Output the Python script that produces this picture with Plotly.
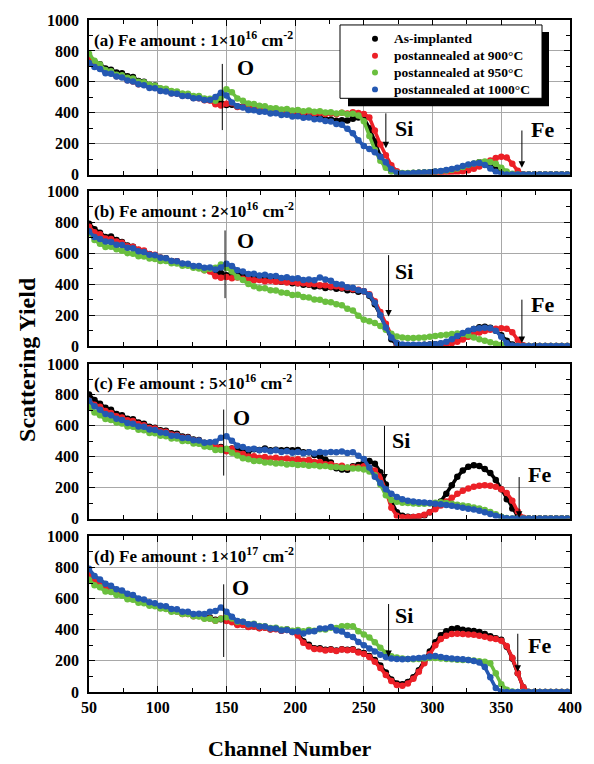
import plotly.graph_objects as go

# ---------------- data (channel axis sampled every 4 channels) ----------------
channels = list(range(50, 400, 4))  # 50 ... 398

series_names = ["As-implanted", "postannealed at 900°C",
                "postannealed at 950°C", "postannealed at 1000°C"]
series_colors = ["#000000", "#ec2027", "#6abf3e", "#2458b2"]

Z8 = [0, 0, 0, 0, 0, 0, 0, 0]

# (a) 1e16
a_black = [770, 728, 714, 686, 679, 660, 655, 636, 631, 606,
           601, 580, 576, 556, 551, 534, 533, 515, 513, 498,
           497, 484, 482, 466, 464, 450, 452, 441, 440, 426,
           428, 414, 415, 404, 406, 396, 398, 388, 390, 380,
           382, 369, 368, 356, 357, 349, 352, 350, 362, 370,
           365, 300, 215, 115, 55, 22, 10, 8, 8, 10,
           12, 14, 15, 18, 20, 24, 28, 35, 45, 55,
           68, 80, 75, 58, 38, 18, 6, 2, 0, 0] + Z8
a_red = [742, 716, 698, 666, 658, 636, 633, 611, 603, 584,
         581, 566, 562, 544, 542, 526, 524, 511, 510, 496,
         494, 481, 480, 455, 447, 458, 462, 438, 437, 427,
         430, 421, 424, 416, 420, 411, 414, 406, 410, 401,
         405, 396, 400, 392, 397, 390, 400, 396, 404, 398,
         392, 370, 285, 195, 125, 60, 22, 8, 6, 6,
         6, 6, 7, 8, 9, 10, 12, 15, 20, 28,
         38, 52, 72, 92, 108, 115, 110, 70, 25, 2] + Z8
a_green = [782, 736, 713, 676, 668, 646, 643, 626, 621, 601,
           598, 581, 575, 558, 555, 541, 538, 524, 523, 508,
           508, 493, 491, 478, 497, 552, 532, 493, 477, 460,
           457, 445, 442, 429, 430, 421, 424, 414, 418, 410,
           414, 406, 410, 401, 404, 396, 400, 390, 394, 383,
           345, 250, 160, 90, 45, 20, 12, 10, 10, 12,
           12, 14, 16, 18, 22, 26, 32, 40, 50, 62,
           72, 80, 85, 82, 70, 45, 20, 5, 0, 0] + Z8
a_blue = [722, 696, 683, 656, 652, 634, 628, 608, 603, 584,
          578, 561, 558, 541, 538, 524, 523, 508, 508, 494,
          494, 482, 482, 502, 530, 512, 467, 442, 434, 418,
          417, 406, 407, 396, 397, 386, 387, 376, 378, 368,
          370, 358, 358, 346, 344, 328, 322, 296, 267, 222,
          185, 165, 145, 115, 80, 35, 12, 8, 8, 10,
          12, 14, 16, 20, 24, 30, 36, 45, 55, 65,
          72, 75, 62, 40, 18, 5, 0, 0, 0, 0] + Z8

# (b) 2e16
b_black = [792, 756, 733, 706, 708, 686, 673, 651, 643, 621,
           613, 594, 588, 571, 568, 551, 548, 531, 528, 511,
           508, 494, 492, 478, 472, 458, 467, 466, 464, 451,
           452, 441, 442, 428, 427, 416, 417, 406, 407, 396,
           397, 386, 387, 376, 380, 371, 372, 361, 362, 352,
           355, 325, 270, 200, 120, 45, 8, 5, 5, 6,
           6, 8, 10, 12, 15, 22, 35, 55, 75, 95,
           110, 122, 125, 118, 100, 70, 35, 10, 2, 0] + Z8
b_red = [772, 736, 723, 696, 693, 676, 668, 646, 643, 624,
         618, 596, 591, 571, 565, 548, 548, 531, 528, 511,
         508, 491, 482, 452, 442, 447, 438, 444, 436, 434,
         426, 427, 420, 422, 416, 418, 412, 414, 406, 407,
         400, 402, 394, 394, 386, 387, 378, 378, 368, 364,
         355, 335, 290, 220, 145, 70, 15, 5, 4, 4,
         4, 5, 5, 6, 8, 12, 18, 28, 42, 60,
         75, 88, 98, 105, 112, 115, 112, 90, 40, 5] + Z8
b_green = [732, 686, 662, 641, 642, 626, 617, 601, 597, 581,
           580, 566, 564, 551, 550, 536, 534, 520, 520, 506,
           502, 491, 500, 506, 527, 506, 482, 446, 427, 401,
           387, 374, 374, 361, 360, 346, 344, 331, 332, 318,
           314, 301, 300, 286, 284, 271, 264, 241, 230, 196,
           170, 160, 150, 130, 105, 80, 62, 55, 52, 52,
           54, 56, 60, 65, 70, 74, 78, 82, 78, 70,
           55, 45, 35, 25, 15, 8, 3, 0, 0, 0] + Z8
b_blue = [742, 706, 693, 676, 673, 656, 653, 636, 633, 614,
          608, 591, 588, 571, 568, 551, 548, 534, 533, 518,
          518, 506, 508, 496, 508, 532, 518, 491, 483, 466,
          468, 456, 461, 451, 453, 441, 445, 436, 439, 428,
          431, 426, 443, 431, 423, 401, 398, 381, 378, 361,
          355, 330, 280, 200, 120, 55, 20, 10, 8, 8,
          8, 9, 10, 12, 18, 28, 45, 65, 85, 100,
          110, 115, 118, 115, 100, 60, 20, 4, 0, 0] + Z8

# (c) 5e16
c_black = [802, 766, 743, 716, 703, 676, 668, 646, 643, 621,
           613, 594, 588, 571, 568, 551, 548, 531, 528, 511,
           508, 491, 488, 466, 463, 441, 453, 451, 448, 436,
           448, 444, 453, 441, 445, 441, 443, 441, 443, 428,
           428, 411, 403, 381, 363, 326, 318, 316, 338, 346,
           365, 372, 355, 300, 220, 110, 40, 18, 12, 10,
           12, 20, 40, 70, 110, 160, 215, 270, 310, 335,
           345, 340, 320, 295, 250, 190, 125, 65, 15, 2] + Z8
c_red = [762, 736, 723, 696, 683, 661, 653, 636, 631, 611,
         603, 586, 583, 564, 561, 544, 541, 524, 523, 506,
         503, 486, 483, 464, 458, 436, 451, 421, 418, 401,
         403, 394, 398, 388, 393, 384, 388, 378, 383, 374,
         378, 366, 365, 351, 351, 338, 341, 328, 333, 331,
         338, 330, 310, 270, 180, 70, 18, 8, 8, 10,
         15, 25, 40, 60, 85, 110, 135, 160, 180, 195,
         205, 212, 215, 212, 205, 190, 165, 115, 45, 5] + Z8
c_green = [722, 686, 668, 644, 638, 621, 615, 596, 593, 574,
           571, 554, 551, 536, 533, 518, 518, 501, 501, 486,
           483, 466, 463, 444, 443, 452, 426, 407, 390, 384,
           373, 372, 363, 362, 356, 357, 350, 352, 346, 348,
           342, 344, 338, 340, 333, 334, 328, 330, 323, 324,
           318, 305, 280, 220, 150, 120, 108, 102, 100, 98,
           96, 95, 98, 102, 105, 100, 95, 90, 85, 80,
           72, 65, 55, 42, 28, 12, 3, 0, 0, 0] + Z8
c_blue = [762, 726, 703, 676, 668, 646, 638, 618, 613, 596,
          593, 576, 573, 556, 553, 536, 535, 521, 521, 506,
          505, 491, 493, 496, 523, 532, 503, 471, 463, 448,
          451, 441, 445, 436, 441, 431, 435, 426, 431, 422,
          428, 420, 431, 426, 431, 428, 433, 424, 428, 406,
          385, 330, 270, 230, 190, 160, 140, 125, 115, 110,
          106, 103, 100, 96, 92, 88, 82, 76, 70, 64,
          58, 50, 40, 30, 18, 8, 2, 0, 0, 0] + Z8

# (d) 1e17
d_black = [762, 716, 703, 676, 668, 646, 638, 616, 608, 588,
           583, 566, 563, 546, 543, 526, 523, 508, 508, 494,
           493, 478, 478, 464, 468, 466, 458, 436, 433, 421,
           423, 412, 415, 404, 407, 396, 401, 391, 373, 326,
           303, 281, 281, 271, 275, 266, 275, 271, 275, 258,
           250, 232, 205, 170, 125, 80, 55, 50, 65, 95,
           140, 200, 260, 320, 365, 390, 405, 410, 400, 395,
           392, 385, 372, 358, 345, 335, 290, 215, 120, 30] + Z8
d_red = [752, 711, 693, 666, 658, 636, 628, 608, 603, 584,
         581, 561, 558, 541, 538, 521, 518, 501, 501, 486,
         488, 474, 473, 458, 473, 456, 448, 431, 431, 418,
         421, 410, 413, 401, 403, 394, 398, 386, 363, 316,
         293, 276, 275, 266, 271, 264, 273, 268, 271, 254,
         245, 225, 195, 155, 110, 70, 45, 40, 55, 85,
         130, 185, 245, 300, 340, 362, 372, 375, 372, 370,
         368, 362, 355, 345, 340, 330, 295, 220, 120, 30] + Z8
d_green = [722, 686, 673, 646, 643, 624, 618, 596, 593, 574,
           571, 554, 551, 536, 533, 516, 515, 501, 501, 486,
           485, 471, 471, 458, 471, 481, 473, 451, 451, 436,
           438, 424, 423, 411, 413, 401, 403, 394, 399, 391,
           398, 394, 403, 401, 413, 411, 423, 424, 423, 391,
           370, 350, 320, 285, 250, 230, 222, 215, 212, 210,
           212, 215, 218, 218, 215, 212, 210, 208, 205, 205,
           202, 198, 195, 185, 120, 50, 15, 3, 0, 0] + Z8
d_blue = [792, 746, 723, 696, 683, 661, 653, 631, 623, 601,
          595, 576, 571, 554, 551, 534, 531, 516, 515, 501,
          503, 501, 515, 521, 543, 516, 483, 456, 451, 436,
          435, 421, 421, 408, 408, 396, 398, 386, 388, 376,
          388, 391, 408, 408, 418, 396, 388, 366, 353, 321,
          300, 280, 260, 240, 225, 215, 212, 210, 212, 215,
          218, 222, 228, 232, 225, 218, 215, 212, 210, 205,
          200, 190, 160, 95, 25, 3, 0, 0, 0, 0] + Z8

panel_labels = ["(a) Fe amount : 1×10<sup>16</sup> cm<sup>-2</sup>",
                "(b) Fe amount : 2×10<sup>16</sup> cm<sup>-2</sup>",
                "(c) Fe amount : 5×10<sup>16</sup> cm<sup>-2</sup>",
                "(d) Fe amount : 1×10<sup>17</sup> cm<sup>-2</sup>"]
x_ticks = [50, 100, 150, 200, 250, 300, 350, 400]
y_ticks = [0, 200, 400, 600, 800, 1000]

# marker annotation positions (channel / yield) per panel
o_x = [147, 149, 148, 148]
o_top = [716, 748, 705, 692]
o_bot = [288, 310, 278, 225]
o_lx = [164, 164, 161, 160]
o_ly = [694, 684, 652, 671]
si_x = [266, 268, 265, 268]
si_top = [406, 598, 609, 575]
si_bot = [171, 192, 246, 225]
si_lx = [279, 279, 277, 279]
si_ly = [300, 480, 502, 490]
fe_x = [365, 365, 363, 362]
fe_top = [295, 310, 278, 384]
fe_bot = [45, 20, 5, 130]
fe_lx = [380, 380, 378, 378]
fe_ly = [292, 267, 288, 300]

panels = [
    [a_black, a_red, a_green, a_blue],
    [b_black, b_red, b_green, b_blue],
    [c_black, c_red, c_green, c_blue],
    [d_black, d_red, d_green, d_blue],
]

# ---------------- layout geometry ----------------
W, H = 594, 764
L, R = 89, 570
TOP, BOT = 14, 692
panel_px = [(14, 170), (187, 343), (361, 517), (535, 692)]
FONT = "Liberation Serif"


def py(p):
    return (BOT - p) / (BOT - TOP)


def pxx(p):
    return (p - L) / (R - L)


fig = go.Figure()

for i, series in enumerate(panels):
    xa = "x" if i == 0 else f"x{i+1}"
    ya = "y" if i == 0 else f"y{i+1}"
    for j, vals in enumerate(series):
        fig.add_trace(go.Scatter(
            x=channels, y=vals, mode="lines+markers",
            line=dict(color=series_colors[j], width=3.5),
            marker=dict(color=series_colors[j], size=6.5, line=dict(width=0)),
            name=series_names[j], showlegend=False,
            xaxis=xa, yaxis=ya, cliponaxis=True))

layout = dict(
    width=W, height=H,
    margin=dict(l=L, r=W - R, t=TOP, b=H - BOT),
    paper_bgcolor="white", plot_bgcolor="white",
    font=dict(family=FONT, color="black"),
    showlegend=False,
)

annotations = []
shapes = []
for i in range(4):
    sfx = "" if i == 0 else str(i + 1)
    top, bot = panel_px[i]
    layout["xaxis" + sfx] = dict(
        domain=[0, 1], anchor="y" + sfx, range=[50, 400],
        tickvals=x_ticks, showticklabels=(i == 3),
        ticks="inside", ticklen=6, tickwidth=1, tickcolor="black",
        minor=dict(dtick=25, tick0=50, ticks="inside", ticklen=4, tickcolor="black", showgrid=False),
        showgrid=True, gridcolor="#a8a8a8", gridwidth=1,
        showline=True, linecolor="black", linewidth=1.5, mirror="ticks",
        zeroline=False,
        tickfont=dict(family=FONT, size=16, color="black", weight="bold"),
    )
    layout["yaxis" + sfx] = dict(
        domain=[py(bot), py(top)], anchor="x" + sfx, range=[0, 1000],
        tickvals=y_ticks, ticks="inside", ticklen=6, tickwidth=1, tickcolor="black",
        minor=dict(dtick=100, tick0=0, ticks="inside", ticklen=4, tickcolor="black", showgrid=False),
        showgrid=True, gridcolor="#a8a8a8", gridwidth=1,
        showline=True, linecolor="black", linewidth=1.5, mirror="ticks",
        zeroline=False, ticklabelstandoff=5,
        tickfont=dict(family=FONT, size=16, color="black", weight="bold"),
    )
    xr, yr = "x" + sfx, "y" + sfx
    # panel label
    annotations.append(dict(x=52, y=880, xref=xr, yref=yr, xanchor="left", yanchor="middle",
                            text="<b>" + panel_labels[i] + "</b>", showarrow=False,
                            font=dict(family=FONT, size=17, color="black")))
    # O marker line
    shapes.append(dict(type="line", xref=xr, yref=yr, x0=o_x[i], x1=o_x[i],
                       y0=o_bot[i], y1=o_top[i], line=dict(color="black", width=1)))
    for lx, ly, t in [(o_lx[i], o_ly[i], "O"), (si_lx[i], si_ly[i], "Si"), (fe_lx[i], fe_ly[i], "Fe")]:
        annotations.append(dict(x=lx, y=ly, xref=xr, yref=yr, text="<b>" + t + "</b>",
                                showarrow=False, xanchor="center", yanchor="middle",
                                font=dict(family=FONT, size=22, color="black")))
    # Si / Fe arrows
    for ax_, atop, abot in [(si_x[i], si_top[i], si_bot[i]), (fe_x[i], fe_top[i], fe_bot[i])]:
        annotations.append(dict(x=ax_, y=abot, xref=xr, yref=yr, ax=ax_, ay=atop,
                                axref=xr, ayref=yr, text="", showarrow=True,
                                arrowhead=2, arrowsize=1.3, arrowwidth=1, arrowcolor="black",
                                standoff=0, startstandoff=0))

# legend: shadow, box, symbols and labels (pixel positions)
shapes.append(dict(type="rect", xref="paper", yref="paper", layer="above",
                   x0=pxx(348), x1=pxx(549), y0=py(101), y1=py(26),
                   fillcolor="black", line=dict(width=0)))
shapes.append(dict(type="rect", xref="paper", yref="paper", layer="above",
                   x0=pxx(340), x1=pxx(542), y0=py(93), y1=py(19),
                   fillcolor="white", line=dict(color="black", width=1)))
legend_rows_px = [33, 50, 67, 84]
for k, name in enumerate(series_names):
    yc = legend_rows_px[k]
    shapes.append(dict(type="circle", xref="paper", yref="paper", layer="above",
                       x0=pxx(372), x1=pxx(378), y0=py(yc + 3), y1=py(yc - 3),
                       fillcolor=series_colors[k], line=dict(width=0)))
    annotations.append(dict(x=pxx(392), y=py(yc), xref="paper", yref="paper",
                            xanchor="left", yanchor="middle", showarrow=False,
                            text="<b>" + name + "</b>",
                            font=dict(family=FONT, size=13.5, color="black")))

# axis titles
annotations.append(dict(x=pxx(27), y=py(357), xref="paper", yref="paper",
                        text="<b>Scattering Yield</b>",
                        showarrow=False, textangle=-90, xanchor="center", yanchor="middle",
                        font=dict(family=FONT, size=24, color="black")))
annotations.append(dict(x=pxx(289), y=py(749), xref="paper", yref="paper",
                        text="<b>Channel Number</b>",
                        showarrow=False, xanchor="center", yanchor="middle",
                        font=dict(family=FONT, size=22, color="black")))

layout["annotations"] = annotations
layout["shapes"] = shapes
fig.update_layout(**layout)
fig.write_html("out.html")
